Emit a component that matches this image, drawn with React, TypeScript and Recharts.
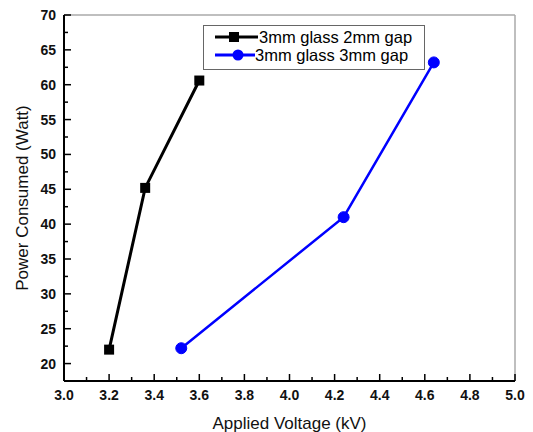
import React from "react";
import { LineChart, Line, XAxis, YAxis, ReferenceLine } from "recharts";

const voltage2mm = [3.2, 3.36, 3.6];
const power2mm = [22.0, 45.2, 60.6];
const voltage3mm = [3.52, 4.24, 4.64];
const power3mm = [22.2, 41.0, 63.2];

const seriesNames = ["3mm glass 2mm gap", "3mm glass 3mm gap"];
const seriesColors = ["#000000", "#0000ff"];

const xTicks = [3.0, 3.1, 3.2, 3.3, 3.4, 3.5, 3.6, 3.7, 3.8, 3.9, 4.0, 4.1, 4.2, 4.3, 4.4, 4.5, 4.6, 4.7, 4.8, 4.9, 5.0];
const yTicks = [20, 22.5, 25, 27.5, 30, 32.5, 35, 37.5, 40, 42.5, 45, 47.5, 50, 52.5, 55, 57.5, 60, 62.5, 65, 67.5, 70];

const data2mm = voltage2mm.map((v, i) => ({ v, p: power2mm[i] }));
const data3mm = voltage3mm.map((v, i) => ({ v, p: power3mm[i] }));

const FONT = "'Liberation Sans', Arial, sans-serif";

const XTick = (props: any) => {
  const { x, y, index, payload } = props;
  const major = index % 2 === 0;
  return (
    <g>
      <line x1={x} y1={y} x2={x} y2={y - (major ? 7 : 4)} stroke="#000" strokeWidth={1.5} />
      {major && (
        <text x={x} y={y + 19} textAnchor="middle" fontSize={14} fontWeight="bold" fontFamily={FONT} fill="#111">
          {Number(payload.value).toFixed(1)}
        </text>
      )}
    </g>
  );
};

const YTick = (props: any) => {
  const { x, y, payload } = props;
  const major = payload.value % 5 === 0;
  return (
    <g>
      <line x1={x} y1={y} x2={x + (major ? 7 : 4)} y2={y} stroke="#000" strokeWidth={1.5} />
      {major && (
        <text x={x - 8} y={y + 5} textAnchor="end" fontSize={14} fontWeight="bold" fontFamily={FONT} fill="#111">
          {payload.value}
        </text>
      )}
    </g>
  );
};

const SquareDot = (props: any) => {
  const { cx, cy } = props;
  if (cx == null || cy == null) return null;
  return <rect x={cx - 5} y={cy - 5} width={10} height={10} fill="#000" />;
};

const LegendBox = () => (
  <div
    style={{
      position: "absolute",
      left: 203,
      top: 25,
      width: 220,
      height: 41,
      border: "1px solid #666",
      background: "#fff",
      fontFamily: FONT,
      fontSize: 16.5,
      lineHeight: "18px",
      color: "#000",
      paddingTop: 2,
      boxSizing: "content-box",
    }}
  >
    {seriesNames.map((name, i) => (
      <div key={name} style={{ display: "flex", alignItems: "center", height: 18 }}>
        <svg width={i === 0 ? 55 : 51} height={18} style={{ flexShrink: 0 }}>
          <line x1={11} y1={9} x2={i === 0 ? 54 : 51} y2={9} stroke={seriesColors[i]} strokeWidth={3} />
          {i === 0 ? (
            <rect x={25} y={4} width={10} height={10} fill="#000" />
          ) : (
            <circle cx={34} cy={9} r={5.5} fill={seriesColors[1]} />
          )}
        </svg>
        <span style={{ whiteSpace: "nowrap" }}>{name}</span>
      </div>
    ))}
  </div>
);

export default function App() {
  return (
    <div style={{ position: "absolute", left: 0, top: 0, width: 533, height: 432, background: "#fff" }}>
      <LineChart width={533} height={432} margin={{ top: 15, right: 18, left: 0, bottom: 0 }}>
        <XAxis
          type="number"
          dataKey="v"
          domain={[3.0, 5.0]}
          ticks={xTicks}
          interval={0}
          tickSize={0}
          tickMargin={0}
          tickLine={false}
          tick={<XTick />}
          axisLine={{ stroke: "#000", strokeWidth: 2 }}
          height={51}
          allowDataOverflow
          label={{
            value: "Applied Voltage (kV)",
            position: "insideBottom",
            offset: 3,
            style: { fontFamily: FONT, fontSize: 17, fill: "#111" },
          }}
        />
        <YAxis
          type="number"
          dataKey="p"
          domain={[17.5, 70]}
          ticks={yTicks}
          interval={0}
          tickSize={0}
          tickMargin={0}
          tickLine={false}
          tick={<YTick />}
          axisLine={{ stroke: "#000", strokeWidth: 2 }}
          width={64}
          allowDataOverflow
          label={{
            value: "Power Consumed (Watt)",
            angle: -90,
            position: "insideLeft",
            offset: 22,
            style: { fontFamily: FONT, fontSize: 17, fill: "#111", textAnchor: "middle" },
          }}
        />
        <ReferenceLine y={70} stroke="#aaa" strokeWidth={1.5} />
        <ReferenceLine x={5.0} stroke="#aaa" strokeWidth={1.5} />
        <Line
          data={data2mm}
          dataKey="p"
          name={seriesNames[0]}
          stroke={seriesColors[0]}
          strokeWidth={3}
          dot={<SquareDot />}
          activeDot={false}
          isAnimationActive={false}
        />
        <Line
          data={data3mm}
          dataKey="p"
          name={seriesNames[1]}
          stroke={seriesColors[1]}
          strokeWidth={2.5}
          dot={{ r: 5.5, fill: seriesColors[1], stroke: seriesColors[1], strokeWidth: 1 }}
          activeDot={false}
          isAnimationActive={false}
        />
      </LineChart>
      <LegendBox />
    </div>
  );
}
